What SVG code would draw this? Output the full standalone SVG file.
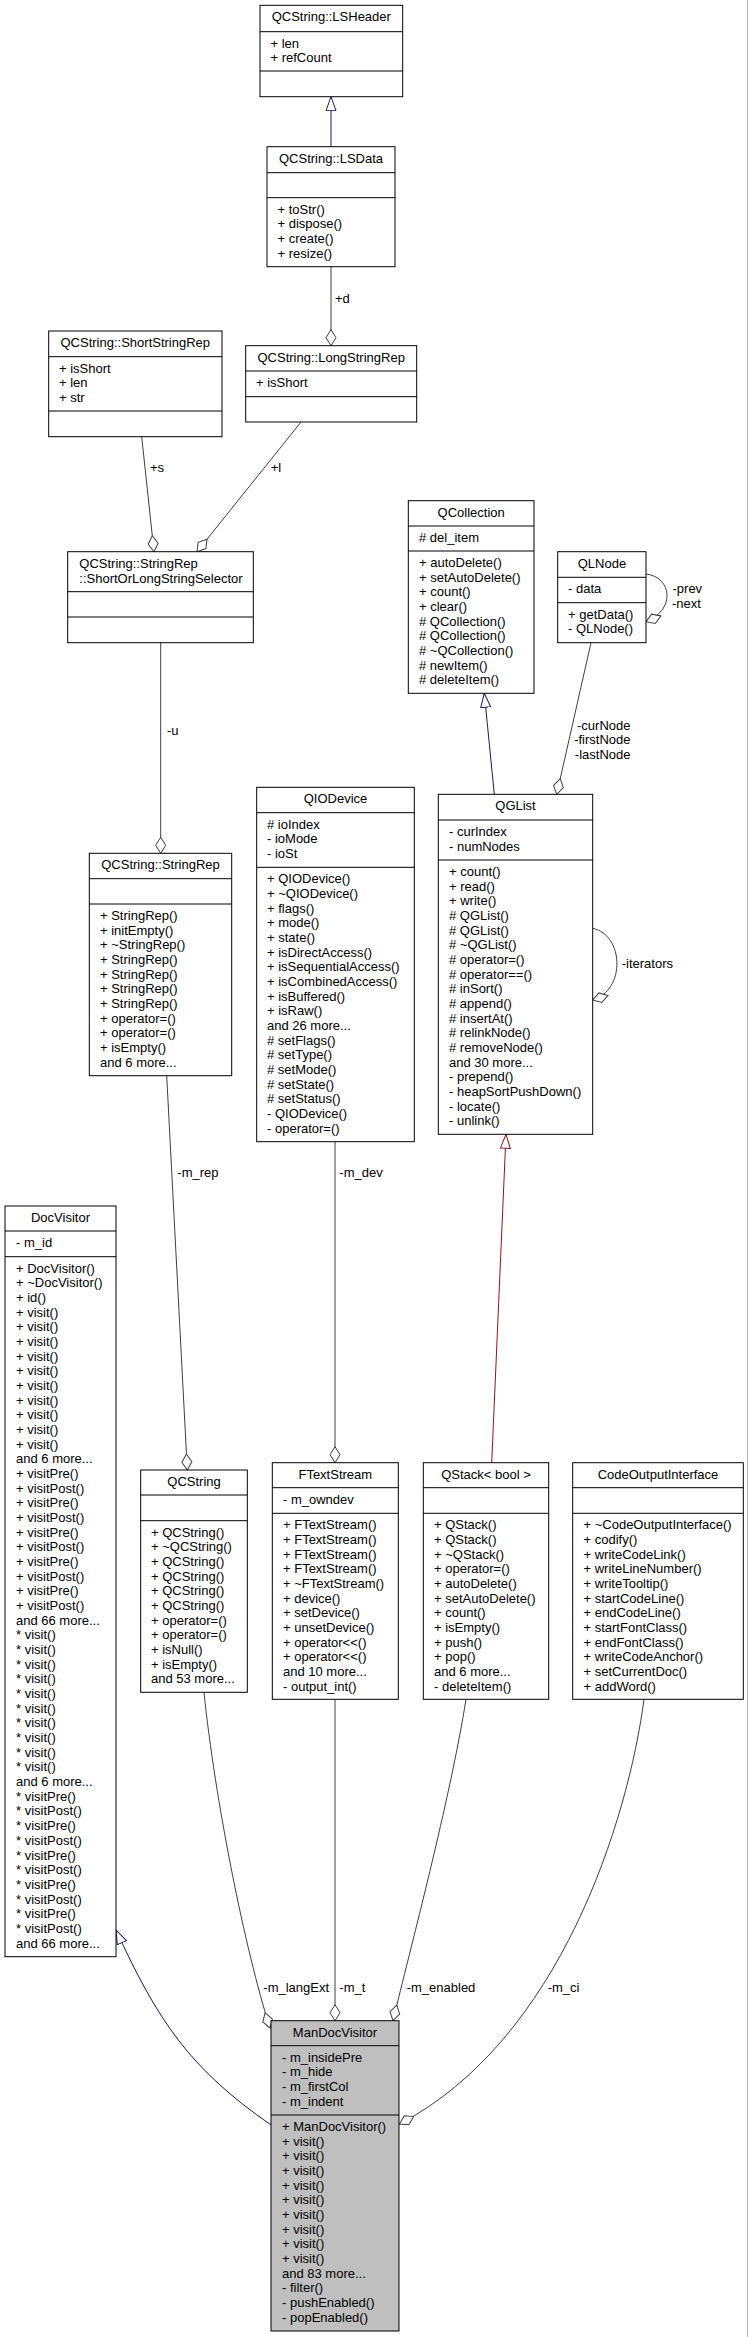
<svg xmlns="http://www.w3.org/2000/svg" width="749" height="2337" viewBox="0 0 749 2337">
<style>
.box{fill:#fff;stroke:#000;stroke-width:1}
.boxg{fill:#bfbfbf;stroke:#000;stroke-width:1}
.sep{stroke:#000;stroke-width:1}
.t{font-family:"Liberation Sans",Arial,Helvetica,sans-serif;font-size:13px;fill:#000}
.c{text-anchor:middle}
.r{text-anchor:end}
.e{fill:none;stroke:#404040;stroke-width:1}
.eb{fill:none;stroke:#191970;stroke-width:1}
.er{fill:none;stroke:#8b1a1a;stroke-width:1}
</style>
<defs>
<marker id="dia" markerUnits="userSpaceOnUse" markerWidth="18" markerHeight="12" refX="16.5" refY="6" orient="auto"><path d="M0.5,6 L8.5,1 L16.5,6 L8.5,11 Z" fill="#fff" stroke="#404040" stroke-width="1"/></marker>
<marker id="triB" markerUnits="userSpaceOnUse" markerWidth="16" markerHeight="12" refX="14.5" refY="6" orient="auto"><path d="M0.5,1 L14.5,6 L0.5,11 Z" fill="#fff" stroke="#191970" stroke-width="1"/></marker>
<marker id="triR" markerUnits="userSpaceOnUse" markerWidth="16" markerHeight="12" refX="14.5" refY="6" orient="auto"><path d="M0.5,1 L14.5,6 L0.5,11 Z" fill="#fff" stroke="#8b1a1a" stroke-width="1"/></marker>
</defs>
<rect x="0" y="0" width="749" height="2337" fill="#fff"/>
<line x1="747.5" y1="0" x2="747.5" y2="2337" stroke="#b4b4b4" stroke-width="1"/>

<g id="connectors">
<path class="eb" d="M331,146.7 L331,96.7" marker-end="url(#triB)"/>
<path class="e" d="M331,266.7 L331,345.7" marker-end="url(#dia)"/>
<text class="t" x="335" y="302.5">+d</text>
<path class="e" d="M141.7,436.7 L154,551.7" marker-end="url(#dia)"/>
<text class="t" x="150" y="472.3">+s</text>
<path class="e" d="M301,422 L197,551.7" marker-end="url(#dia)"/>
<text class="t" x="270.7" y="472.3">+l</text>
<path class="e" d="M160.7,642.7 L160.7,853.3" marker-end="url(#dia)"/>
<text class="t" x="167" y="735">-u</text>
<path class="eb" d="M494.3,794.3 L484.3,693.3" marker-end="url(#triB)"/>
<path class="e" d="M591,642.7 L556.7,794.3" marker-end="url(#dia)"/>
<text class="t r" x="630.5" y="729.5">-curNode</text>
<text class="t r" x="630.5" y="744">-firstNode</text>
<text class="t r" x="630.5" y="758.7">-lastNode</text>
<path class="e" d="M646,574 C672,577 676,610 646,621.7" marker-end="url(#dia)"/>
<text class="t" x="672.5" y="593.3">-prev</text>
<text class="t" x="672" y="608">-next</text>
<path class="e" d="M592.7,928.3 C624,935 626,990 592.7,1000" marker-end="url(#dia)"/>
<text class="t" x="621.7" y="967.8">-iterators</text>
<path class="er" d="M491.7,1462.7 L506,1134.3" marker-end="url(#triR)"/>
<path class="e" d="M166.7,1075.7 L187.3,1470" marker-end="url(#dia)"/>
<text class="t" x="177.3" y="1177.2">-m_rep</text>
<path class="e" d="M335,1141.7 L335,1462.7" marker-end="url(#dia)"/>
<text class="t" x="339.3" y="1177.2">-m_dev</text>
<path class="eb" d="M271,2125 C189,2068 158,2021 116,1930" marker-end="url(#triB)"/>
<path class="e" d="M204,1692.3 C215,1800 245,1950 270,2028" marker-end="url(#dia)"/>
<text class="t" x="263.3" y="1992.2">-m_langExt</text>
<path class="e" d="M335,1699.3 L335,2020.7" marker-end="url(#dia)"/>
<text class="t" x="339.3" y="1992.2">-m_t</text>
<path class="e" d="M466,1699.3 C450,1800 410,1950 393,2020.7" marker-end="url(#dia)"/>
<text class="t" x="406.7" y="1992.2">-m_enabled</text>
<path class="e" d="M644,1699.3 C628,1820 560,2040 399.5,2124" marker-end="url(#dia)"/>
<text class="t" x="547.7" y="1992.2">-m_ci</text>
</g>

<g id="LSHeader">
<rect class="box" x="260" y="5.3" width="142.7" height="91.4"/>
<line class="sep" x1="260" y1="31.7" x2="402.7" y2="31.7"/>
<line class="sep" x1="260" y1="71" x2="402.7" y2="71"/>
<text class="t c" x="331.3" y="21.3">QCString::LSHeader</text>
<text class="t" x="270.5" y="47.7"><tspan x="270.5">+ len</tspan><tspan x="270.5" dy="14.67">+ refCount</tspan></text>
</g>

<g id="LSData">
<rect class="box" x="267" y="146.7" width="128" height="120"/>
<line class="sep" x1="267" y1="172.7" x2="395" y2="172.7"/>
<line class="sep" x1="267" y1="197.7" x2="395" y2="197.7"/>
<text class="t c" x="331" y="162.7">QCString::LSData</text>
<text class="t" x="277.5" y="213.7"><tspan x="277.5">+ toStr()</tspan><tspan x="277.5" dy="14.67">+ dispose()</tspan><tspan x="277.5" dy="14.67">+ create()</tspan><tspan x="277.5" dy="14.67">+ resize()</tspan></text>
</g>

<g id="LongStringRep">
<rect class="box" x="245.7" y="345.7" width="171" height="76.3"/>
<line class="sep" x1="245.7" y1="371" x2="416.7" y2="371"/>
<line class="sep" x1="245.7" y1="396.7" x2="416.7" y2="396.7"/>
<text class="t c" x="331.2" y="361.7">QCString::LongStringRep</text>
<text class="t" x="256" y="387">+ isShort</text>
</g>

<g id="ShortStringRep">
<rect class="box" x="48.7" y="331" width="173.3" height="105.7"/>
<line class="sep" x1="48.7" y1="356.7" x2="222" y2="356.7"/>
<line class="sep" x1="48.7" y1="411" x2="222" y2="411"/>
<text class="t c" x="135.3" y="347">QCString::ShortStringRep</text>
<text class="t" x="59" y="372.7"><tspan x="59">+ isShort</tspan><tspan x="59" dy="14.67">+ len</tspan><tspan x="59" dy="14.67">+ str</tspan></text>
</g>

<g id="ShortOrLongStringSelector">
<rect class="box" x="67.7" y="551.7" width="185.6" height="91"/>
<line class="sep" x1="67.7" y1="591.7" x2="253.3" y2="591.7"/>
<line class="sep" x1="67.7" y1="617" x2="253.3" y2="617"/>
<text class="t" x="79.3" y="568"><tspan x="79.3">QCString::StringRep</tspan><tspan x="79.3" dy="14.67">::ShortOrLongStringSelector</tspan></text>
</g>

<g id="StringRep">
<rect class="box" x="89.3" y="853.3" width="142.4" height="222.4"/>
<line class="sep" x1="89.3" y1="878.7" x2="231.7" y2="878.7"/>
<line class="sep" x1="89.3" y1="904" x2="231.7" y2="904"/>
<text class="t c" x="160.5" y="869.3">QCString::StringRep</text>
<text class="t" x="100" y="920"><tspan x="100">+ StringRep()</tspan><tspan x="100" dy="14.67">+ initEmpty()</tspan><tspan x="100" dy="14.67">+ ~StringRep()</tspan><tspan x="100" dy="14.67">+ StringRep()</tspan><tspan x="100" dy="14.67">+ StringRep()</tspan><tspan x="100" dy="14.67">+ StringRep()</tspan><tspan x="100" dy="14.67">+ StringRep()</tspan><tspan x="100" dy="14.67">+ operator=()</tspan><tspan x="100" dy="14.67">+ operator=()</tspan><tspan x="100" dy="14.67">+ isEmpty()</tspan><tspan x="100" dy="14.67">and 6 more...</tspan></text>
</g>

<g id="QCollection">
<rect class="box" x="408.3" y="500.7" width="125.7" height="192.6"/>
<line class="sep" x1="408.3" y1="526" x2="534" y2="526"/>
<line class="sep" x1="408.3" y1="551" x2="534" y2="551"/>
<text class="t c" x="471.2" y="516.7">QCollection</text>
<text class="t" x="419" y="542"># del_item</text>
<text class="t" x="419" y="567"><tspan x="419">+ autoDelete()</tspan><tspan x="419" dy="14.67">+ setAutoDelete()</tspan><tspan x="419" dy="14.67">+ count()</tspan><tspan x="419" dy="14.67">+ clear()</tspan><tspan x="419" dy="14.67"># QCollection()</tspan><tspan x="419" dy="14.67"># QCollection()</tspan><tspan x="419" dy="14.67"># ~QCollection()</tspan><tspan x="419" dy="14.67"># newItem()</tspan><tspan x="419" dy="14.67"># deleteItem()</tspan></text>
</g>

<g id="QLNode">
<rect class="box" x="557.7" y="551.7" width="88.3" height="91"/>
<line class="sep" x1="557.7" y1="577.3" x2="646" y2="577.3"/>
<line class="sep" x1="557.7" y1="602.7" x2="646" y2="602.7"/>
<text class="t c" x="601.9" y="567.7">QLNode</text>
<text class="t" x="568" y="593.3">- data</text>
<text class="t" x="568" y="618.7"><tspan x="568">+ getData()</tspan><tspan x="568" dy="14.67">- QLNode()</tspan></text>
</g>

<g id="QGList">
<rect class="box" x="438.3" y="794.3" width="154.4" height="340"/>
<line class="sep" x1="438.3" y1="820" x2="592.7" y2="820"/>
<line class="sep" x1="438.3" y1="860" x2="592.7" y2="860"/>
<text class="t c" x="515.5" y="810.3">QGList</text>
<text class="t" x="449" y="836"><tspan x="449">- curIndex</tspan><tspan x="449" dy="14.67">- numNodes</tspan></text>
<text class="t" x="449" y="876"><tspan x="449">+ count()</tspan><tspan x="449" dy="14.67">+ read()</tspan><tspan x="449" dy="14.67">+ write()</tspan><tspan x="449" dy="14.67"># QGList()</tspan><tspan x="449" dy="14.67"># QGList()</tspan><tspan x="449" dy="14.67"># ~QGList()</tspan><tspan x="449" dy="14.67"># operator=()</tspan><tspan x="449" dy="14.67"># operator==()</tspan><tspan x="449" dy="14.67"># inSort()</tspan><tspan x="449" dy="14.67"># append()</tspan><tspan x="449" dy="14.67"># insertAt()</tspan><tspan x="449" dy="14.67"># relinkNode()</tspan><tspan x="449" dy="14.67"># removeNode()</tspan><tspan x="449" dy="14.67">and 30 more...</tspan><tspan x="449" dy="14.67">- prepend()</tspan><tspan x="449" dy="14.67">- heapSortPushDown()</tspan><tspan x="449" dy="14.67">- locate()</tspan><tspan x="449" dy="14.67">- unlink()</tspan></text>
</g>

<g id="QIODevice">
<rect class="box" x="256.7" y="787.3" width="157.6" height="354.4"/>
<line class="sep" x1="256.7" y1="812.7" x2="414.3" y2="812.7"/>
<line class="sep" x1="256.7" y1="867.3" x2="414.3" y2="867.3"/>
<text class="t c" x="335.5" y="803.3">QIODevice</text>
<text class="t" x="267" y="828.7"><tspan x="267"># ioIndex</tspan><tspan x="267" dy="14.67">- ioMode</tspan><tspan x="267" dy="14.67">- ioSt</tspan></text>
<text class="t" x="267" y="883.3"><tspan x="267">+ QIODevice()</tspan><tspan x="267" dy="14.67">+ ~QIODevice()</tspan><tspan x="267" dy="14.67">+ flags()</tspan><tspan x="267" dy="14.67">+ mode()</tspan><tspan x="267" dy="14.67">+ state()</tspan><tspan x="267" dy="14.67">+ isDirectAccess()</tspan><tspan x="267" dy="14.67">+ isSequentialAccess()</tspan><tspan x="267" dy="14.67">+ isCombinedAccess()</tspan><tspan x="267" dy="14.67">+ isBuffered()</tspan><tspan x="267" dy="14.67">+ isRaw()</tspan><tspan x="267" dy="14.67">and 26 more...</tspan><tspan x="267" dy="14.67"># setFlags()</tspan><tspan x="267" dy="14.67"># setType()</tspan><tspan x="267" dy="14.67"># setMode()</tspan><tspan x="267" dy="14.67"># setState()</tspan><tspan x="267" dy="14.67"># setStatus()</tspan><tspan x="267" dy="14.67">- QIODevice()</tspan><tspan x="267" dy="14.67">- operator=()</tspan></text>
</g>

<g id="DocVisitor">
<rect class="box" x="5" y="1206" width="111" height="750.7"/>
<line class="sep" x1="5" y1="1231" x2="116" y2="1231"/>
<line class="sep" x1="5" y1="1256.7" x2="116" y2="1256.7"/>
<text class="t c" x="60.5" y="1222">DocVisitor</text>
<text class="t" x="16" y="1247">- m_id</text>
<text class="t" x="16" y="1272.7"><tspan x="16">+ DocVisitor()</tspan><tspan x="16" dy="14.67">+ ~DocVisitor()</tspan><tspan x="16" dy="14.67">+ id()</tspan><tspan x="16" dy="14.67">+ visit()</tspan><tspan x="16" dy="14.67">+ visit()</tspan><tspan x="16" dy="14.67">+ visit()</tspan><tspan x="16" dy="14.67">+ visit()</tspan><tspan x="16" dy="14.67">+ visit()</tspan><tspan x="16" dy="14.67">+ visit()</tspan><tspan x="16" dy="14.67">+ visit()</tspan><tspan x="16" dy="14.67">+ visit()</tspan><tspan x="16" dy="14.67">+ visit()</tspan><tspan x="16" dy="14.67">+ visit()</tspan><tspan x="16" dy="14.67">and 6 more...</tspan><tspan x="16" dy="14.67">+ visitPre()</tspan><tspan x="16" dy="14.67">+ visitPost()</tspan><tspan x="16" dy="14.67">+ visitPre()</tspan><tspan x="16" dy="14.67">+ visitPost()</tspan><tspan x="16" dy="14.67">+ visitPre()</tspan><tspan x="16" dy="14.67">+ visitPost()</tspan><tspan x="16" dy="14.67">+ visitPre()</tspan><tspan x="16" dy="14.67">+ visitPost()</tspan><tspan x="16" dy="14.67">+ visitPre()</tspan><tspan x="16" dy="14.67">+ visitPost()</tspan><tspan x="16" dy="14.67">and 66 more...</tspan><tspan x="16" dy="14.67">* visit()</tspan><tspan x="16" dy="14.67">* visit()</tspan><tspan x="16" dy="14.67">* visit()</tspan><tspan x="16" dy="14.67">* visit()</tspan><tspan x="16" dy="14.67">* visit()</tspan><tspan x="16" dy="14.67">* visit()</tspan><tspan x="16" dy="14.67">* visit()</tspan><tspan x="16" dy="14.67">* visit()</tspan><tspan x="16" dy="14.67">* visit()</tspan><tspan x="16" dy="14.67">* visit()</tspan><tspan x="16" dy="14.67">and 6 more...</tspan><tspan x="16" dy="14.67">* visitPre()</tspan><tspan x="16" dy="14.67">* visitPost()</tspan><tspan x="16" dy="14.67">* visitPre()</tspan><tspan x="16" dy="14.67">* visitPost()</tspan><tspan x="16" dy="14.67">* visitPre()</tspan><tspan x="16" dy="14.67">* visitPost()</tspan><tspan x="16" dy="14.67">* visitPre()</tspan><tspan x="16" dy="14.67">* visitPost()</tspan><tspan x="16" dy="14.67">* visitPre()</tspan><tspan x="16" dy="14.67">* visitPost()</tspan><tspan x="16" dy="14.67">and 66 more...</tspan></text>
</g>

<g id="QCString">
<rect class="box" x="140.7" y="1470" width="106.6" height="222.3"/>
<line class="sep" x1="140.7" y1="1495" x2="247.3" y2="1495"/>
<line class="sep" x1="140.7" y1="1520.7" x2="247.3" y2="1520.7"/>
<text class="t c" x="194" y="1486">QCString</text>
<text class="t" x="151" y="1536.7"><tspan x="151">+ QCString()</tspan><tspan x="151" dy="14.67">+ ~QCString()</tspan><tspan x="151" dy="14.67">+ QCString()</tspan><tspan x="151" dy="14.67">+ QCString()</tspan><tspan x="151" dy="14.67">+ QCString()</tspan><tspan x="151" dy="14.67">+ QCString()</tspan><tspan x="151" dy="14.67">+ operator=()</tspan><tspan x="151" dy="14.67">+ operator=()</tspan><tspan x="151" dy="14.67">+ isNull()</tspan><tspan x="151" dy="14.67">+ isEmpty()</tspan><tspan x="151" dy="14.67">and 53 more...</tspan></text>
</g>

<g id="FTextStream">
<rect class="box" x="272.3" y="1462.7" width="126" height="236.6"/>
<line class="sep" x1="272.3" y1="1487.7" x2="398.3" y2="1487.7"/>
<line class="sep" x1="272.3" y1="1513.3" x2="398.3" y2="1513.3"/>
<text class="t c" x="335.3" y="1478.7">FTextStream</text>
<text class="t" x="283" y="1503.7">- m_owndev</text>
<text class="t" x="283" y="1529.3"><tspan x="283">+ FTextStream()</tspan><tspan x="283" dy="14.67">+ FTextStream()</tspan><tspan x="283" dy="14.67">+ FTextStream()</tspan><tspan x="283" dy="14.67">+ FTextStream()</tspan><tspan x="283" dy="14.67">+ ~FTextStream()</tspan><tspan x="283" dy="14.67">+ device()</tspan><tspan x="283" dy="14.67">+ setDevice()</tspan><tspan x="283" dy="14.67">+ unsetDevice()</tspan><tspan x="283" dy="14.67">+ operator&lt;&lt;()</tspan><tspan x="283" dy="14.67">+ operator&lt;&lt;()</tspan><tspan x="283" dy="14.67">and 10 more...</tspan><tspan x="283" dy="14.67">- output_int()</tspan></text>
</g>

<g id="QStack_bool">
<rect class="box" x="423.3" y="1462.7" width="125.4" height="236.6"/>
<line class="sep" x1="423.3" y1="1487.7" x2="548.7" y2="1487.7"/>
<line class="sep" x1="423.3" y1="1513.3" x2="548.7" y2="1513.3"/>
<text class="t c" x="486" y="1478.7">QStack&lt; bool &gt;</text>
<text class="t" x="434" y="1529.3"><tspan x="434">+ QStack()</tspan><tspan x="434" dy="14.67">+ QStack()</tspan><tspan x="434" dy="14.67">+ ~QStack()</tspan><tspan x="434" dy="14.67">+ operator=()</tspan><tspan x="434" dy="14.67">+ autoDelete()</tspan><tspan x="434" dy="14.67">+ setAutoDelete()</tspan><tspan x="434" dy="14.67">+ count()</tspan><tspan x="434" dy="14.67">+ isEmpty()</tspan><tspan x="434" dy="14.67">+ push()</tspan><tspan x="434" dy="14.67">+ pop()</tspan><tspan x="434" dy="14.67">and 6 more...</tspan><tspan x="434" dy="14.67">- deleteItem()</tspan></text>
</g>

<g id="CodeOutputInterface">
<rect class="box" x="572.7" y="1462.7" width="170.6" height="236.6"/>
<line class="sep" x1="572.7" y1="1487.7" x2="743.3" y2="1487.7"/>
<line class="sep" x1="572.7" y1="1513.3" x2="743.3" y2="1513.3"/>
<text class="t c" x="658" y="1478.7">CodeOutputInterface</text>
<text class="t" x="583.5" y="1529.3"><tspan x="583.5">+ ~CodeOutputInterface()</tspan><tspan x="583.5" dy="14.67">+ codify()</tspan><tspan x="583.5" dy="14.67">+ writeCodeLink()</tspan><tspan x="583.5" dy="14.67">+ writeLineNumber()</tspan><tspan x="583.5" dy="14.67">+ writeTooltip()</tspan><tspan x="583.5" dy="14.67">+ startCodeLine()</tspan><tspan x="583.5" dy="14.67">+ endCodeLine()</tspan><tspan x="583.5" dy="14.67">+ startFontClass()</tspan><tspan x="583.5" dy="14.67">+ endFontClass()</tspan><tspan x="583.5" dy="14.67">+ writeCodeAnchor()</tspan><tspan x="583.5" dy="14.67">+ setCurrentDoc()</tspan><tspan x="583.5" dy="14.67">+ addWord()</tspan></text>
</g>

<g id="ManDocVisitor">
<rect class="boxg" x="271" y="2020.7" width="128" height="310.3"/>
<line class="sep" x1="271" y1="2045.7" x2="399" y2="2045.7"/>
<line class="sep" x1="271" y1="2115" x2="399" y2="2115"/>
<text class="t c" x="335" y="2036.7">ManDocVisitor</text>
<text class="t" x="282" y="2061.7"><tspan x="282">- m_insidePre</tspan><tspan x="282" dy="14.67">- m_hide</tspan><tspan x="282" dy="14.67">- m_firstCol</tspan><tspan x="282" dy="14.67">- m_indent</tspan></text>
<text class="t" x="282" y="2131"><tspan x="282">+ ManDocVisitor()</tspan><tspan x="282" dy="14.67">+ visit()</tspan><tspan x="282" dy="14.67">+ visit()</tspan><tspan x="282" dy="14.67">+ visit()</tspan><tspan x="282" dy="14.67">+ visit()</tspan><tspan x="282" dy="14.67">+ visit()</tspan><tspan x="282" dy="14.67">+ visit()</tspan><tspan x="282" dy="14.67">+ visit()</tspan><tspan x="282" dy="14.67">+ visit()</tspan><tspan x="282" dy="14.67">+ visit()</tspan><tspan x="282" dy="14.67">and 83 more...</tspan><tspan x="282" dy="14.67">- filter()</tspan><tspan x="282" dy="14.67">- pushEnabled()</tspan><tspan x="282" dy="14.67">- popEnabled()</tspan></text>
</g>
</svg>
